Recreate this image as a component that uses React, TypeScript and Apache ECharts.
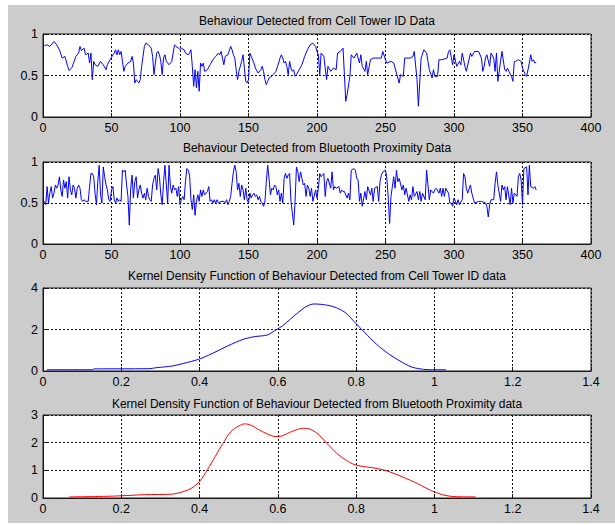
import React, { useEffect, useRef } from "react";
import * as echarts from "echarts";

const titles = [
  "Behaviour Detected from Cell Tower ID Data",
  "Behaviour Detected from Bluetooth Proximity Data",
  "Kernel Density Function of Behaviour Detected from Cell Tower ID data",
  "Kernel Density Function of Behaviour Detected from Bluetooth Proximity data",
];

const cellX = [
  1, 3, 5, 8, 10, 12, 14, 16, 18, 19, 21, 24, 26, 27, 28, 30, 31, 33, 34, 35, 36, 37, 38, 40, 42, 44, 46, 47, 49, 51,
  52, 53, 54, 55, 56, 57, 58, 59, 60, 62, 64, 65, 66, 67, 68, 69, 70, 71, 72, 73, 74, 75, 77, 79, 80, 81, 82, 83, 84, 85,
  86, 87, 88, 89, 90, 92, 94, 95, 96, 97, 99, 100, 101, 103, 104, 106, 107, 108, 109, 110, 111, 112, 113, 114, 115, 116, 117, 118, 120, 122,
  124, 126, 128, 129, 130, 131, 132, 133, 135, 137, 138, 139, 140, 141, 142, 143, 145, 146, 147, 148, 149, 150, 151, 152, 154, 155, 157, 159, 160, 161,
  162, 163, 164, 165, 167, 168, 170, 172, 173, 174, 175, 176, 177, 178, 179, 180, 181, 182, 183, 184, 185, 187, 189, 191, 193, 195, 197, 199, 200, 201,
  202, 203, 205, 207, 208, 210, 212, 214, 215, 217, 219, 221, 222, 224, 225, 227, 229, 231, 232, 233, 235, 236, 237, 239, 241, 245, 247, 248, 250, 251,
  254, 256, 258, 260, 261, 263, 264, 268, 270, 271, 273, 274, 276, 278, 280, 281, 282, 284, 285, 286, 288, 289, 291, 295, 296, 297, 299, 300, 302, 304,
  305, 306, 308, 309, 312, 313, 315, 318, 320, 321, 322, 323, 324, 326, 327, 329, 330, 331, 332, 334, 335, 337, 338, 339, 340, 342, 343, 344, 345, 347,
  349, 350, 352, 353, 355, 356, 357, 358, 359, 360,
];
const cellY = [
  0.86, 0.87, 0.85, 0.91, 0.87, 0.81, 0.71, 0.73, 0.61, 0.56, 0.59, 0.73, 0.77, 0.85, 0.8, 0.83, 0.75, 0.77, 0.65, 0.77, 0.45, 0.67, 0.63, 0.61, 0.67, 0.63, 0.57, 0.63, 0.69, 0.75,
  0.77, 0.81, 0.75, 0.81, 0.75, 0.79, 0.67, 0.55, 0.61, 0.65, 0.67, 0.73, 0.65, 0.41, 0.45, 0.43, 0.41, 0.45, 0.61, 0.73, 0.85, 0.89, 0.87, 0.83, 0.73, 0.51, 0.65, 0.77, 0.79, 0.75,
  0.67, 0.51, 0.71, 0.75, 0.67, 0.63, 0.67, 0.77, 0.87, 0.85, 0.83, 0.81, 0.83, 0.81, 0.77, 0.75, 0.77, 0.81, 0.61, 0.37, 0.57, 0.35, 0.55, 0.31, 0.65, 0.61, 0.65, 0.55, 0.57, 0.63,
  0.69, 0.73, 0.77, 0.75, 0.79, 0.71, 0.63, 0.73, 0.75, 0.85, 0.81, 0.75, 0.71, 0.57, 0.45, 0.55, 0.67, 0.75, 0.59, 0.43, 0.41, 0.45, 0.77, 0.73, 0.65, 0.59, 0.53, 0.57, 0.61, 0.55,
  0.45, 0.39, 0.43, 0.47, 0.49, 0.51, 0.55, 0.65, 0.71, 0.75, 0.71, 0.65, 0.67, 0.61, 0.51, 0.67, 0.59, 0.55, 0.57, 0.49, 0.51, 0.57, 0.63, 0.73, 0.81, 0.87, 0.89, 0.85, 0.79, 0.75,
  0.51, 0.77, 0.73, 0.45, 0.61, 0.55, 0.59, 0.57, 0.77, 0.79, 0.83, 0.19, 0.27, 0.49, 0.75, 0.71, 0.77, 0.65, 0.75, 0.61, 0.55, 0.67, 0.51, 0.69, 0.71, 0.71, 0.71, 0.79, 0.69, 0.65,
  0.67, 0.65, 0.53, 0.41, 0.51, 0.49, 0.71, 0.71, 0.73, 0.79, 0.45, 0.13, 0.71, 0.81, 0.77, 0.67, 0.57, 0.47, 0.57, 0.49, 0.49, 0.69, 0.69, 0.71, 0.79, 0.81, 0.63, 0.75, 0.61, 0.67,
  0.63, 0.77, 0.61, 0.55, 0.77, 0.73, 0.79, 0.79, 0.71, 0.55, 0.61, 0.71, 0.75, 0.61, 0.77, 0.71, 0.55, 0.77, 0.43, 0.67, 0.79, 0.57, 0.55, 0.59, 0.55, 0.49, 0.43, 0.67, 0.67, 0.69,
  0.67, 0.59, 0.51, 0.49, 0.65, 0.75, 0.67, 0.69, 0.65, 0.66,
];

const btX = [
  1, 2, 3, 4, 5, 6, 7, 8, 9, 10, 11, 12, 13, 14, 15, 16, 17, 18, 19, 20, 21, 22, 23, 24, 25, 26, 27, 28, 29, 30,
  31, 33, 34, 35, 36, 37, 38, 39, 40, 41, 42, 43, 44, 45, 46, 47, 48, 49, 50, 51, 52, 53, 54, 55, 56, 57, 58, 59, 60, 61,
  62, 63, 64, 65, 66, 67, 68, 69, 70, 71, 72, 73, 74, 75, 76, 77, 78, 79, 80, 81, 82, 83, 84, 85, 86, 87, 88, 89, 90, 91,
  92, 93, 94, 95, 96, 97, 98, 99, 100, 101, 102, 103, 104, 105, 106, 107, 108, 109, 110, 111, 112, 113, 114, 115, 116, 117, 118, 119, 120, 121,
  122, 123, 124, 125, 126, 127, 128, 130, 132, 133, 134, 135, 136, 137, 138, 139, 140, 141, 142, 143, 144, 145, 146, 147, 148, 149, 150, 151, 152, 153,
  154, 155, 156, 157, 158, 159, 160, 161, 162, 163, 164, 165, 166, 167, 168, 169, 170, 171, 172, 173, 174, 175, 176, 177, 178, 179, 180, 181, 182, 183,
  184, 185, 186, 187, 188, 189, 190, 191, 192, 193, 194, 195, 196, 197, 199, 200, 201, 202, 203, 205, 206, 207, 208, 210, 211, 212, 213, 214, 216, 217,
  218, 219, 220, 222, 223, 224, 225, 227, 228, 229, 230, 231, 232, 233, 235, 236, 237, 239, 240, 241, 242, 244, 245, 246, 247, 248, 250, 251, 252, 253,
  254, 256, 257, 258, 259, 260, 262, 263, 264, 265, 267, 268, 269, 270, 271, 273, 274, 275, 276, 277, 279, 280, 281, 282, 283, 285, 286, 287, 289, 290,
  291, 292, 293, 294, 296, 297, 298, 299, 300, 302, 303, 304, 306, 307, 308, 309, 310, 312, 313, 314, 315, 318, 320, 323, 324, 325, 326, 327, 329, 330,
  331, 332, 334, 335, 336, 337, 338, 339, 341, 342, 343, 344, 346, 347, 348, 349, 350, 351, 353, 354, 355, 356, 358, 359, 360,
];
const btY = [
  0.52, 0.48, 0.7, 0.5, 0.62, 0.7, 0.56, 0.62, 0.72, 0.68, 0.72, 0.82, 0.66, 0.58, 0.78, 0.68, 0.76, 0.56, 0.82, 0.66, 0.6, 0.72, 0.68, 0.56, 0.68, 0.72, 0.68, 0.54, 0.52, 0.54,
  0.52, 0.52, 0.7, 0.86, 0.86, 0.82, 0.62, 0.48, 0.76, 0.96, 0.6, 0.5, 0.94, 0.82, 0.72, 0.66, 0.54, 0.52, 0.66, 0.7, 0.54, 0.5, 0.56, 0.52, 0.54, 0.52, 0.9, 0.88, 0.9, 0.72,
  0.58, 0.23, 0.68, 0.84, 0.56, 0.76, 0.82, 0.56, 0.66, 0.72, 0.62, 0.56, 0.62, 0.54, 0.68, 0.58, 0.54, 0.52, 0.72, 0.8, 0.84, 0.66, 0.92, 0.82, 0.6, 0.48, 0.76, 0.96, 0.72, 0.5,
  0.96, 0.7, 0.62, 0.72, 0.66, 0.68, 0.58, 0.7, 0.48, 0.54, 0.58, 0.54, 0.76, 0.92, 0.9, 0.84, 0.54, 0.42, 0.6, 0.35, 0.52, 0.6, 0.52, 0.66, 0.58, 0.66, 0.6, 0.62, 0.64, 0.7,
  0.52, 0.54, 0.5, 0.54, 0.5, 0.54, 0.5, 0.52, 0.52, 0.5, 0.54, 0.48, 0.52, 0.58, 0.74, 0.88, 0.96, 0.88, 0.66, 0.74, 0.58, 0.72, 0.66, 0.54, 0.68, 0.54, 0.5, 0.62, 0.56, 0.6,
  0.62, 0.58, 0.6, 0.54, 0.58, 0.52, 0.5, 0.46, 0.52, 0.76, 0.96, 0.8, 0.6, 0.68, 0.66, 0.72, 0.7, 0.6, 0.66, 0.52, 0.62, 0.5, 0.8, 0.86, 0.8, 0.84, 0.86, 0.52, 0.38, 0.23,
  0.52, 0.94, 0.88, 0.76, 0.88, 0.8, 0.72, 0.74, 0.58, 0.72, 0.68, 0.58, 0.68, 0.52, 0.66, 0.56, 0.68, 0.86, 0.82, 0.86, 0.58, 0.76, 0.8, 0.68, 0.88, 0.66, 0.7, 0.68, 0.7, 0.62,
  0.66, 0.64, 0.64, 0.56, 0.62, 0.54, 0.9, 0.92, 0.9, 0.8, 0.78, 0.52, 0.62, 0.46, 0.64, 0.54, 0.7, 0.6, 0.68, 0.52, 0.68, 0.7, 0.52, 0.76, 0.84, 0.88, 0.9, 0.8, 0.56, 0.25,
  0.58, 0.82, 0.68, 0.9, 0.76, 0.8, 0.66, 0.72, 0.6, 0.68, 0.52, 0.6, 0.54, 0.7, 0.58, 0.64, 0.54, 0.64, 0.52, 0.62, 0.54, 0.9, 0.72, 0.54, 0.66, 0.62, 0.66, 0.68, 0.62, 0.68,
  0.58, 0.68, 0.58, 0.68, 0.62, 0.5, 0.5, 0.46, 0.56, 0.48, 0.54, 0.48, 0.54, 0.86, 0.82, 0.68, 0.62, 0.72, 0.62, 0.56, 0.5, 0.52, 0.52, 0.5, 0.46, 0.33, 0.48, 0.54, 0.54, 0.74,
  0.88, 0.72, 0.52, 0.72, 0.66, 0.7, 0.54, 0.7, 0.48, 0.68, 0.5, 0.62, 0.58, 0.82, 0.86, 0.78, 0.48, 0.92, 0.94, 0.6, 0.96, 0.7, 0.68, 0.7, 0.66,
];

const kdeCellX = [
  0.01, 0.127, 0.13, 0.27, 0.29, 0.33, 0.36, 0.397, 0.432, 0.472, 0.512, 0.542, 0.572, 0.592, 0.612, 0.632, 0.652, 0.672, 0.692, 0.712,
  0.742, 0.772, 0.797, 0.822, 0.852, 0.882, 0.912, 0.942, 0.972, 0.99, 1.03,
];
const kdeCellY = [
  0.06, 0.06, 0.1, 0.11, 0.16, 0.24, 0.37, 0.56, 0.84, 1.21, 1.53, 1.66, 1.73, 1.94, 2.18, 2.5, 2.82, 3.1, 3.23, 3.21,
  3.1, 2.82, 2.34, 1.85, 1.29, 0.84, 0.48, 0.19, 0.08, 0.06, 0.06,
];

const kdeBtX = [
  0.067, 0.16, 0.2, 0.26, 0.33, 0.36, 0.38, 0.4, 0.42, 0.44, 0.46, 0.48, 0.5, 0.515, 0.53, 0.55, 0.575, 0.595, 0.61, 0.635,
  0.665, 0.68, 0.7, 0.725, 0.75, 0.775, 0.797, 0.827, 0.857, 0.887, 0.922, 0.957, 0.99, 1.02, 1.05, 1.105,
];
const kdeBtY = [
  0.04, 0.06, 0.08, 0.12, 0.14, 0.24, 0.36, 0.6, 1.02, 1.5, 1.98, 2.4, 2.6, 2.68, 2.64, 2.48, 2.3, 2.22, 2.24, 2.4,
  2.52, 2.5, 2.34, 1.98, 1.62, 1.36, 1.2, 1.12, 1.06, 0.94, 0.74, 0.52, 0.28, 0.12, 0.05, 0.04,
];

const xRanges = [
  { min: 0, max: 400, interval: 50 },
  { min: 0, max: 400, interval: 50 },
  { min: 0, max: 1.4, interval: 0.2 },
  { min: 0, max: 1.4, interval: 0.2 },
];
const yRanges = [
  { min: 0, max: 1, interval: 0.5 },
  { min: 0, max: 1, interval: 0.5 },
  { min: 0, max: 4, interval: 2 },
  { min: 0, max: 3, interval: 1 },
];

const pair = (xs: number[], ys: number[]) => xs.map((x, i) => [x, ys[i]]);

export default function App() {
  const ref = useRef<HTMLDivElement>(null);
  useEffect(() => {
    const chart = echarts.init(ref.current!, null, { renderer: "svg" });
    const font = '"Liberation Sans", Arial, Helvetica, sans-serif';
    const grids = [
      { left: 35, top: 29, width: 548, height: 83 },
      { left: 35, top: 157, width: 548, height: 82 },
      { left: 35, top: 283, width: 548, height: 83 },
      { left: 35, top: 410, width: 548, height: 83 },
    ];
    const titleTops = [16, 143, 271, 399];
    const fmt = (v: number) => String(Math.round(v * 10) / 10);
    const splitStyle = { show: true, lineStyle: { color: "#111", type: [2, 2] as any, width: 1 } };
    const series = [
      { d: pair(cellX, cellY), c: "#0000ff", smooth: false },
      { d: pair(btX, btY), c: "#0000ff", smooth: false },
      { d: pair(kdeCellX, kdeCellY), c: "#0000ff", smooth: 0.3 },
      { d: pair(kdeBtX, kdeBtY), c: "#ff0000", smooth: 0.3 },
    ];
    chart.setOption({
      animation: false,
      backgroundColor: "#cccccc",
      title: titles.map((t, i) => ({
        text: t,
        left: 309,
        top: titleTops[i],
        textAlign: "center",
        textVerticalAlign: "middle",
        padding: 0,
        textStyle: { fontSize: 12, fontWeight: "normal", color: "#000", fontFamily: font },
      })),
      grid: grids.map((g) => ({
        ...g,
        show: true,
        backgroundColor: "#ffffff",
        borderColor: "#1a1a1a",
        borderWidth: 1,
      })),
      xAxis: xRanges.map((r, i) => ({
        type: "value",
        gridIndex: i,
        ...r,
        axisLine: { show: true, lineStyle: { color: "#1a1a1a", width: 1 } },
        axisTick: { show: true, inside: true, length: 4, lineStyle: { color: "#1a1a1a" } },
        axisLabel: { color: "#000", fontSize: 12.5, fontFamily: font, margin: 4, formatter: fmt },
        splitLine: splitStyle,
      })),
      yAxis: yRanges.map((r, i) => ({
        type: "value",
        gridIndex: i,
        ...r,
        axisLine: { show: true, lineStyle: { color: "#1a1a1a", width: 1 } },
        axisTick: { show: true, inside: true, length: 4, lineStyle: { color: "#1a1a1a" } },
        axisLabel: { color: "#000", fontSize: 12.5, fontFamily: font, margin: 5, formatter: fmt },
        splitLine: splitStyle,
      })),
      series: series.map((s, i) => ({
        type: "line",
        xAxisIndex: i,
        yAxisIndex: i,
        data: s.d,
        smooth: s.smooth,
        showSymbol: false,
        symbol: "none",
        lineStyle: { color: s.c, width: 1 },
        itemStyle: { color: s.c },
      })),
    });
    return () => chart.dispose();
  }, []);
  return (
    <div style={{ position: "fixed", left: 0, top: 0, width: 615, height: 525, background: "#ffffff" }}>
      <div ref={ref} style={{ position: "absolute", left: 8, top: 5, width: 607, height: 518 }} />
    </div>
  );
}
